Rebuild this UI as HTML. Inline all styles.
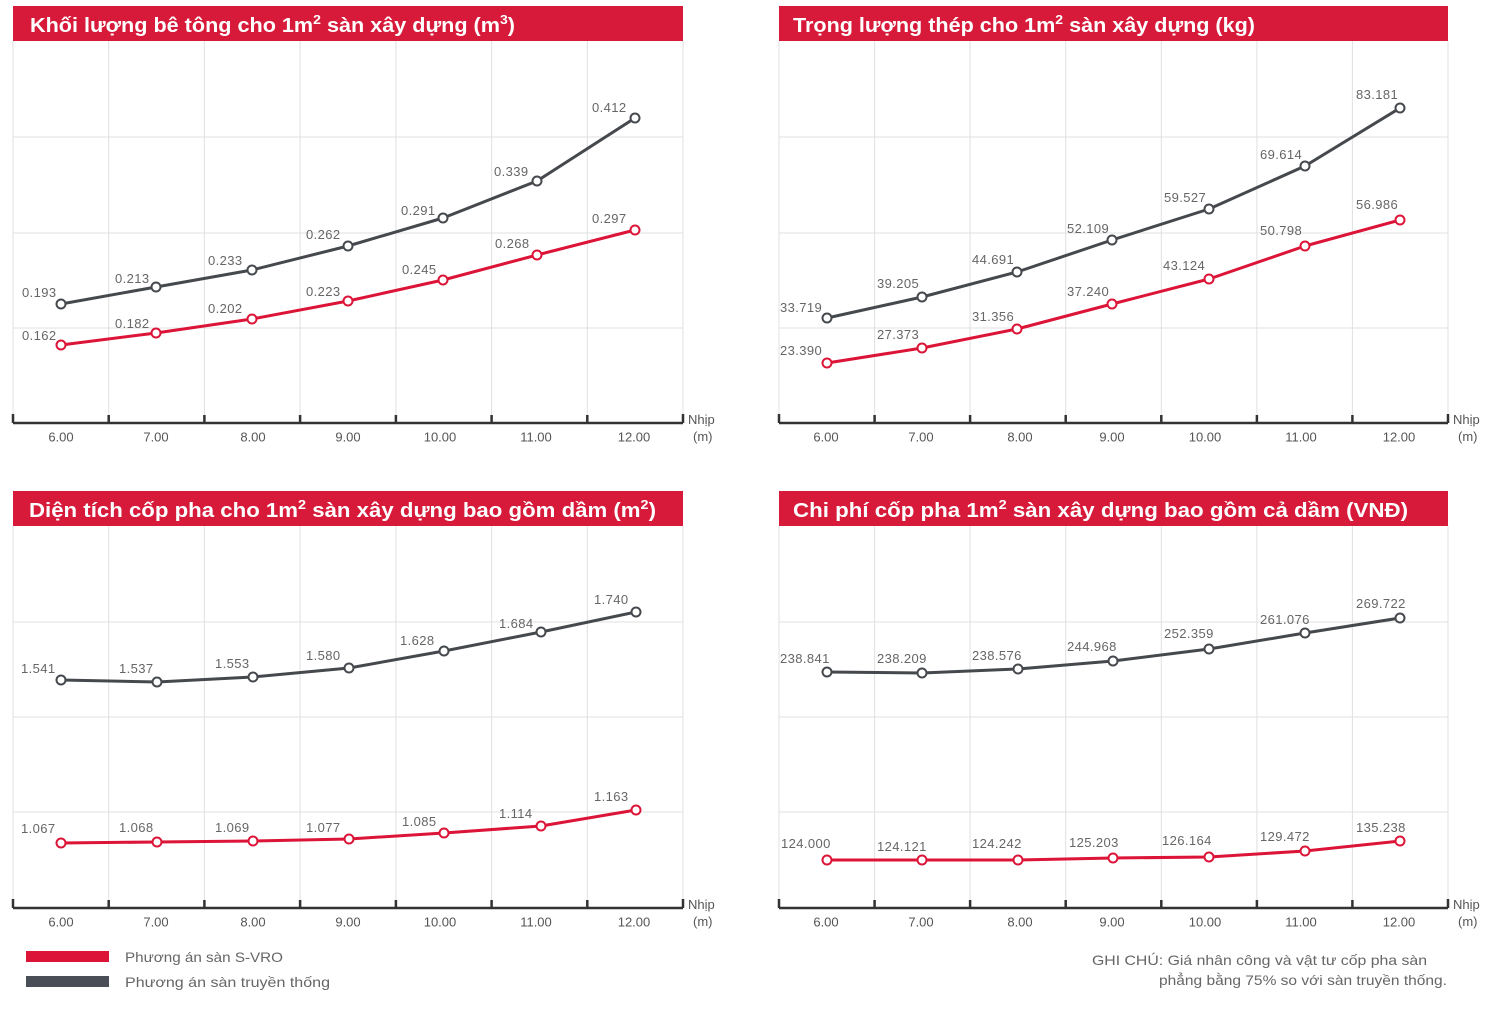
<!DOCTYPE html>
<html><head><meta charset="utf-8"><style>
html,body{margin:0;padding:0;background:#fff;}
svg{display:block;}
.hd{font-family:"Liberation Sans",sans-serif;font-weight:bold;fill:#fff;font-size:20px;}
.lb{font-family:"Liberation Sans",sans-serif;fill:#666;font-size:13px;letter-spacing:0.4px;}
.ax{font-family:"Liberation Sans",sans-serif;fill:#555;font-size:13px;text-anchor:middle;}
.nh{font-family:"Liberation Sans",sans-serif;fill:#555;font-size:13px;}
.lg{font-family:"Liberation Sans",sans-serif;fill:#666;font-size:14px;}
.g{stroke:#e0e0e0;stroke-width:1;fill:none;}
.axl{stroke:#333;stroke-width:2.5;fill:none;}
.sg{stroke:#45484d;stroke-width:3;fill:none;stroke-linejoin:round;}
.sr{stroke:#dc1437;stroke-width:3;fill:none;stroke-linejoin:round;}
.mg{fill:#fff;stroke:#45484d;stroke-width:2;}
.mr{fill:#fff;stroke:#dc1437;stroke-width:2;}
</style></head><body>
<svg width="1506" height="1030" viewBox="0 0 1506 1030" xmlns="http://www.w3.org/2000/svg">
<rect width="1506" height="1030" fill="#fff"/>

<!-- ============ PANEL 1 ============ -->
<rect x="13" y="6" width="670" height="35" fill="#d71a3a"/>
<text class="hd" x="30" y="32" textLength="485" lengthAdjust="spacingAndGlyphs">Khối lượng bê tông cho 1m<tspan font-size="13" dy="-8">2</tspan><tspan dy="8"> sàn xây dựng (m</tspan><tspan font-size="13" dy="-8">3</tspan><tspan dy="8">)</tspan></text>
<g class="g">
<path d="M13 41V423M108.7 41V423M204.4 41V423M300.1 41V423M395.9 41V423M491.6 41V423M587.3 41V423M683 41V423"/>
<path d="M13 137H683M13 233H683M13 328H683"/>
</g>
<path class="axl" d="M13 423H683M13 414V423M108.7 415V423M204.4 415V423M300.1 415V423M395.9 415V423M491.6 415V423M587.3 415V423M683 414V423"/>
<polyline class="sg" points="61,304 156,287 252,270 348,246 443,218 537,181 635,118"/>
<polyline class="sr" points="61,345 156,333 252,319 348,301 443,280 537,255 635,230"/>
<g class="mg"><circle cx="61" cy="304" r="4.5"/><circle cx="156" cy="287" r="4.5"/><circle cx="252" cy="270" r="4.5"/><circle cx="348" cy="246" r="4.5"/><circle cx="443" cy="218" r="4.5"/><circle cx="537" cy="181" r="4.5"/><circle cx="635" cy="118" r="4.5"/></g>
<g class="mr"><circle cx="61" cy="345" r="4.5"/><circle cx="156" cy="333" r="4.5"/><circle cx="252" cy="319" r="4.5"/><circle cx="348" cy="301" r="4.5"/><circle cx="443" cy="280" r="4.5"/><circle cx="537" cy="255" r="4.5"/><circle cx="635" cy="230" r="4.5"/></g>
<g class="lb">
<text x="22" y="297">0.193</text><text x="115" y="283">0.213</text><text x="208" y="265">0.233</text><text x="306" y="239">0.262</text><text x="401" y="215">0.291</text><text x="494" y="176">0.339</text><text x="592" y="112">0.412</text>
<text x="22" y="340">0.162</text><text x="115" y="328">0.182</text><text x="208" y="313">0.202</text><text x="306" y="296">0.223</text><text x="402" y="274">0.245</text><text x="495" y="248">0.268</text><text x="592" y="223">0.297</text>
</g>
<g class="ax"><text x="61" y="441.5">6.00</text><text x="156" y="441.5">7.00</text><text x="253" y="441.5">8.00</text><text x="348" y="441.5">9.00</text><text x="440" y="441.5">10.00</text><text x="536" y="441.5">11.00</text><text x="634" y="441.5">12.00</text></g>
<text class="nh" x="688" y="424">Nhịp</text><text class="nh" x="693" y="441">(m)</text>

<!-- ============ PANEL 2 ============ -->
<rect x="779" y="6" width="669" height="35" fill="#d71a3a"/>
<text class="hd" x="793" y="32" textLength="462" lengthAdjust="spacingAndGlyphs">Trọng lượng thép cho 1m<tspan font-size="13" dy="-8">2</tspan><tspan dy="8"> sàn xây dựng (kg)</tspan></text>
<g class="g">
<path d="M779 41V423M874.6 41V423M970.1 41V423M1065.7 41V423M1161.3 41V423M1256.9 41V423M1352.4 41V423M1448 41V423"/>
<path d="M779 137H1448M779 233H1448M779 328H1448"/>
</g>
<path class="axl" d="M779 423H1448M779 414V423M874.6 415V423M970.1 415V423M1065.7 415V423M1161.3 415V423M1256.9 415V423M1352.4 415V423M1448 414V423"/>
<polyline class="sg" points="827,318 922,297 1017,272 1112,240 1209,209 1305,166 1400,108"/>
<polyline class="sr" points="827,363 922,348 1017,329 1112,304 1209,279 1305,246 1400,220"/>
<g class="mg"><circle cx="827" cy="318" r="4.5"/><circle cx="922" cy="297" r="4.5"/><circle cx="1017" cy="272" r="4.5"/><circle cx="1112" cy="240" r="4.5"/><circle cx="1209" cy="209" r="4.5"/><circle cx="1305" cy="166" r="4.5"/><circle cx="1400" cy="108" r="4.5"/></g>
<g class="mr"><circle cx="827" cy="363" r="4.5"/><circle cx="922" cy="348" r="4.5"/><circle cx="1017" cy="329" r="4.5"/><circle cx="1112" cy="304" r="4.5"/><circle cx="1209" cy="279" r="4.5"/><circle cx="1305" cy="246" r="4.5"/><circle cx="1400" cy="220" r="4.5"/></g>
<g class="lb">
<text x="780" y="312">33.719</text><text x="877" y="288">39.205</text><text x="972" y="264">44.691</text><text x="1067" y="233">52.109</text><text x="1164" y="202">59.527</text><text x="1260" y="159">69.614</text><text x="1356" y="99">83.181</text>
<text x="780" y="355">23.390</text><text x="877" y="339">27.373</text><text x="972" y="321">31.356</text><text x="1067" y="296">37.240</text><text x="1163" y="270">43.124</text><text x="1260" y="235">50.798</text><text x="1356" y="209">56.986</text>
</g>
<g class="ax"><text x="826" y="441.5">6.00</text><text x="921" y="441.5">7.00</text><text x="1020" y="441.5">8.00</text><text x="1112" y="441.5">9.00</text><text x="1205" y="441.5">10.00</text><text x="1301" y="441.5">11.00</text><text x="1399" y="441.5">12.00</text></g>
<text class="nh" x="1453" y="424">Nhịp</text><text class="nh" x="1458" y="441">(m)</text>

<!-- ============ PANEL 3 ============ -->
<rect x="13" y="491" width="670" height="35" fill="#d71a3a"/>
<text class="hd" x="29" y="517" textLength="627" lengthAdjust="spacingAndGlyphs">Diện tích cốp pha cho 1m<tspan font-size="13" dy="-8">2</tspan><tspan dy="8"> sàn xây dựng bao gồm dầm (m</tspan><tspan font-size="13" dy="-8">2</tspan><tspan dy="8">)</tspan></text>
<g class="g">
<path d="M13 526V908M108.7 526V908M204.4 526V908M300.1 526V908M395.9 526V908M491.6 526V908M587.3 526V908M683 526V908"/>
<path d="M13 622H683M13 717H683M13 812H683"/>
</g>
<path class="axl" d="M13 908H683M13 899V908M108.7 900V908M204.4 900V908M300.1 900V908M395.9 900V908M491.6 900V908M587.3 900V908M683 899V908"/>
<polyline class="sg" points="61,680 157,682 253,677 349,668 444,651 541,632 636,612"/>
<polyline class="sr" points="61,843 157,842 253,841 349,839 444,833 541,826 636,810"/>
<g class="mg"><circle cx="61" cy="680" r="4.5"/><circle cx="157" cy="682" r="4.5"/><circle cx="253" cy="677" r="4.5"/><circle cx="349" cy="668" r="4.5"/><circle cx="444" cy="651" r="4.5"/><circle cx="541" cy="632" r="4.5"/><circle cx="636" cy="612" r="4.5"/></g>
<g class="mr"><circle cx="61" cy="843" r="4.5"/><circle cx="157" cy="842" r="4.5"/><circle cx="253" cy="841" r="4.5"/><circle cx="349" cy="839" r="4.5"/><circle cx="444" cy="833" r="4.5"/><circle cx="541" cy="826" r="4.5"/><circle cx="636" cy="810" r="4.5"/></g>
<g class="lb">
<text x="21" y="673">1.541</text><text x="119" y="673">1.537</text><text x="215" y="668">1.553</text><text x="306" y="660">1.580</text><text x="400" y="645">1.628</text><text x="499" y="628">1.684</text><text x="594" y="604">1.740</text>
<text x="21" y="833">1.067</text><text x="119" y="832">1.068</text><text x="215" y="832">1.069</text><text x="306" y="832">1.077</text><text x="402" y="826">1.085</text><text x="499" y="818">1.114</text><text x="594" y="801">1.163</text>
</g>
<g class="ax"><text x="61" y="926.5">6.00</text><text x="156" y="926.5">7.00</text><text x="253" y="926.5">8.00</text><text x="348" y="926.5">9.00</text><text x="440" y="926.5">10.00</text><text x="536" y="926.5">11.00</text><text x="634" y="926.5">12.00</text></g>
<text class="nh" x="688" y="909">Nhịp</text><text class="nh" x="693" y="926">(m)</text>

<!-- ============ PANEL 4 ============ -->
<rect x="779" y="491" width="669" height="35" fill="#d71a3a"/>
<text class="hd" x="793" y="517" textLength="615" lengthAdjust="spacingAndGlyphs">Chi phí cốp pha 1m<tspan font-size="13" dy="-8">2</tspan><tspan dy="8"> sàn xây dựng bao gồm cả dầm (VNĐ)</tspan></text>
<g class="g">
<path d="M779 526V908M874.6 526V908M970.1 526V908M1065.7 526V908M1161.3 526V908M1256.9 526V908M1352.4 526V908M1448 526V908"/>
<path d="M779 622H1448M779 717H1448M779 812H1448"/>
</g>
<path class="axl" d="M779 908H1448M779 899V908M874.6 900V908M970.1 900V908M1065.7 900V908M1161.3 900V908M1256.9 900V908M1352.4 900V908M1448 899V908"/>
<polyline class="sg" points="827,672 922,673 1018,669 1113,661 1209,649 1305,633 1400,618"/>
<polyline class="sr" points="827,860 922,860 1018,860 1113,858 1209,857 1305,851 1400,841"/>
<g class="mg"><circle cx="827" cy="672" r="4.5"/><circle cx="922" cy="673" r="4.5"/><circle cx="1018" cy="669" r="4.5"/><circle cx="1113" cy="661" r="4.5"/><circle cx="1209" cy="649" r="4.5"/><circle cx="1305" cy="633" r="4.5"/><circle cx="1400" cy="618" r="4.5"/></g>
<g class="mr"><circle cx="827" cy="860" r="4.5"/><circle cx="922" cy="860" r="4.5"/><circle cx="1018" cy="860" r="4.5"/><circle cx="1113" cy="858" r="4.5"/><circle cx="1209" cy="857" r="4.5"/><circle cx="1305" cy="851" r="4.5"/><circle cx="1400" cy="841" r="4.5"/></g>
<g class="lb">
<text x="780" y="663">238.841</text><text x="877" y="663">238.209</text><text x="972" y="660">238.576</text><text x="1067" y="651">244.968</text><text x="1164" y="638">252.359</text><text x="1260" y="624">261.076</text><text x="1356" y="608">269.722</text>
<text x="781" y="848">124.000</text><text x="877" y="851">124.121</text><text x="972" y="848">124.242</text><text x="1069" y="847">125.203</text><text x="1162" y="845">126.164</text><text x="1260" y="841">129.472</text><text x="1356" y="832">135.238</text>
</g>
<g class="ax"><text x="826" y="926.5">6.00</text><text x="921" y="926.5">7.00</text><text x="1020" y="926.5">8.00</text><text x="1112" y="926.5">9.00</text><text x="1205" y="926.5">10.00</text><text x="1301" y="926.5">11.00</text><text x="1399" y="926.5">12.00</text></g>
<text class="nh" x="1453" y="909">Nhịp</text><text class="nh" x="1458" y="926">(m)</text>

<!-- ============ LEGEND ============ -->
<rect x="26" y="951" width="83" height="11" fill="#dc1437"/>
<rect x="26" y="976" width="83" height="11" fill="#4a4e56"/>
<text class="lg" x="125" y="962" textLength="158" lengthAdjust="spacingAndGlyphs">Phương án sàn S-VRO</text>
<text class="lg" x="125" y="987" textLength="205" lengthAdjust="spacingAndGlyphs">Phương án sàn truyền thống</text>

<!-- ============ NOTE ============ -->
<text class="lg" x="1092" y="965" font-size="13.5" textLength="335" lengthAdjust="spacingAndGlyphs">GHI CHÚ: Giá nhân công và vật tư cốp pha sàn</text>
<text class="lg" x="1159" y="985" font-size="13.5" textLength="288" lengthAdjust="spacingAndGlyphs">phẳng bằng 75% so với sàn truyền thống.</text>
</svg>
</body></html>
